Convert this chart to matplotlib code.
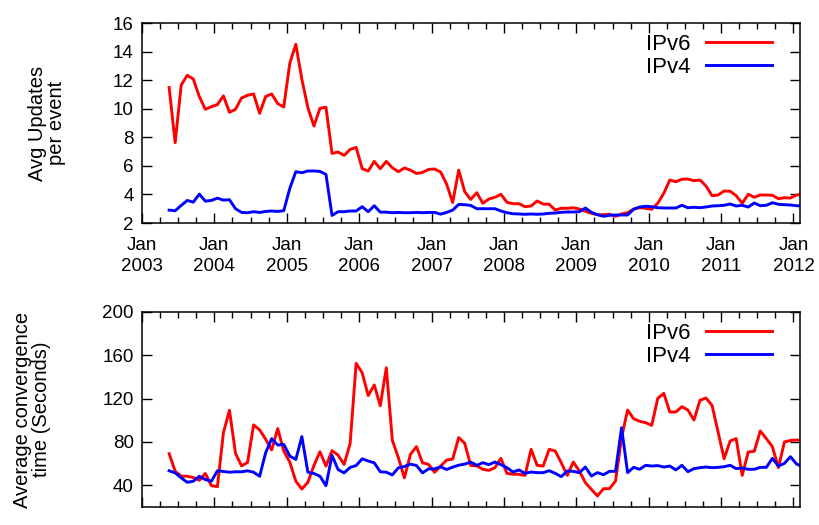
import numpy as np
import matplotlib
matplotlib.use("Agg")
import matplotlib.pyplot as plt
from matplotlib.ticker import MultipleLocator, FixedLocator

plt.rcParams['font.family'] = ['Liberation Sans', 'DejaVu Sans']

# monthly series, May 2003 .. Feb 2012 (mid-month points)
start_year, start_month = 2003, 5
n_points = 106

upd_ipv6 = [11.48, 7.62, 11.66, 12.34, 12.08, 10.85, 9.96, 10.14, 10.29, 10.9, 9.75, 9.96,
            10.75, 10.94, 11.03, 9.68, 10.85, 11.03, 10.36, 10.12, 13.18, 14.51, 12.06, 10.07,
            8.79, 10.03, 10.1, 6.87, 6.97, 6.73, 7.15, 7.29, 5.8, 5.64, 6.31, 5.8,
            6.31, 5.87, 5.59, 5.85, 5.7, 5.47, 5.54, 5.75, 5.78, 5.57, 4.72, 3.44,
            5.7, 4.19, 3.65, 4.12,
            3.38, 3.68, 3.8, 4.01, 3.45, 3.35, 3.35, 3.14, 3.19, 3.54, 3.33, 3.31,
            2.91, 3.03, 3.03, 3.07, 2.98, 2.82, 2.68, 2.58, 2.58, 2.61, 2.47, 2.63,
            2.72, 2.98, 3.07, 3.03, 2.96, 3.38, 4.08, 5.01, 4.89, 5.06, 5.08, 4.96,
            5.01, 4.59, 3.91, 3.96, 4.24, 4.22, 3.91, 3.38, 4.01, 3.8, 3.96, 3.96,
            3.94, 3.7, 3.77, 3.75, 3.96, 3.98]

upd_ipv4 = [2.9, 2.86, 3.23, 3.58, 3.46, 4.02, 3.53, 3.58, 3.74, 3.6, 3.63, 3.0,
            2.74, 2.72, 2.79, 2.74, 2.81, 2.84, 2.81, 2.86, 4.42, 5.59, 5.52, 5.64,
            5.64, 5.61, 5.4, 2.53, 2.79, 2.79, 2.84, 2.84, 3.14, 2.79, 3.21, 2.76,
            2.76, 2.72, 2.74, 2.72, 2.72, 2.74, 2.72, 2.74, 2.74, 2.62, 2.74, 2.9,
            3.3, 3.28, 3.23, 3.0,
            3.0, 3.0, 3.0, 2.84, 2.72, 2.65, 2.63, 2.61, 2.63, 2.61, 2.63, 2.68,
            2.7, 2.75, 2.77, 2.77, 2.79, 3.05, 2.75, 2.58, 2.47, 2.54, 2.56, 2.56,
            2.56, 2.96, 3.12, 3.17, 3.14, 3.07, 3.05, 3.05, 3.05, 3.24, 3.07, 3.1,
            3.07, 3.12, 3.19, 3.21, 3.24, 3.33, 3.19, 3.24, 3.12, 3.4, 3.21, 3.24,
            3.42, 3.31, 3.28, 3.26, 3.21, 3.19]

conv_ipv6 = [69.2, 53.0, 48.4, 48.4, 47.2, 44.7, 50.9, 39.7, 38.8, 88.7, 109.2, 69.5,
             58.0, 61.1, 95.8, 91.2, 82.5, 72.6, 92.4, 71.7, 61.4, 43.8, 36.6, 42.8,
             58.3, 71.0, 57.7, 72.0, 67.9, 59.3, 78.5, 152.6, 143.9, 122.8, 132.7, 113.5,
             148.5, 81.6, 65.5, 46.9, 68.6, 75.7, 60.8, 59.3, 52.1, 57.7, 63.3, 64.2,
             84.1, 78.8, 58.3, 58.0,
             54.8, 53.8, 56.3, 64.9, 51.1, 50.2, 50.2, 49.2, 73.2, 58.5, 57.8, 73.2,
             71.7, 60.9, 49.2, 61.5, 53.2, 42.5, 36.3, 30.2, 36.9, 36.9, 44.0, 84.0,
             109.5, 101.5, 99.1, 97.8, 95.4, 120.3, 124.9, 107.7, 107.7, 112.6, 109.5, 100.3,
             118.5, 120.6, 113.8, 89.2, 64.6, 80.9, 83.1, 49.2, 70.8, 71.4, 90.2, 83.1,
             75.7, 56.3, 80.0, 81.5, 81.8, 81.5]

conv_ipv4 = [53.4, 51.5, 46.9, 42.8, 43.8, 48.4, 45.3, 43.8, 53.4, 52.8, 52.1, 52.5,
             52.5, 53.4, 52.1, 48.4, 70.1, 83.1, 77.2, 77.8, 67.0, 63.9, 85.0, 52.1,
             50.9, 48.4, 39.7, 67.6, 54.6, 51.5, 56.5, 58.3, 64.5, 62.4, 60.8, 52.5,
             52.1, 49.6, 56.2, 57.4, 59.6, 58.3, 51.5, 55.2, 55.2, 57.1, 54.6, 56.8,
             58.6, 59.6, 61.4, 58.5,
             60.9, 59.1, 61.5, 59.1, 56.3, 52.3, 54.2, 51.1, 52.3, 51.7, 51.7, 53.5,
             51.1, 48.0, 53.2, 52.9, 51.7, 56.9, 48.6, 51.7, 49.8, 52.9, 52.9, 93.2,
             51.7, 56.6, 54.8, 58.5, 57.8, 58.2, 56.9, 57.8, 54.2, 58.5, 52.6, 55.4,
             56.3, 56.9, 56.3, 56.6, 57.2, 58.5, 55.4, 56.0, 54.8, 54.8, 56.6, 56.6,
             64.9, 57.8, 60.3, 66.4, 59.7, 57.2]

year_ticks = list(range(2003, 2013))
year_labels = ["Jan\n%d" % y for y in year_ticks]

# x positions as decimal years (mid-month)
x = np.array([start_year + (start_month - 1 + i + 0.5) / 12.0 for i in range(n_points)])

RED = '#ff0000'
BLUE = '#0000ff'
FS = 13.5

fig = plt.figure(figsize=(8.19, 5.25), dpi=100)
ax1 = fig.add_axes([142/819, 1 - 223/525, 658/819, 200/525])
ax2 = fig.add_axes([142/819, 1 - 507/525, 658/819, 195/525])

xmin, xmax = 2003.0, 2012.09

def style(ax):
    ax.set_xlim(xmin, xmax)
    ax.xaxis.set_major_locator(FixedLocator(year_ticks))
    ax.xaxis.set_minor_locator(MultipleLocator(0.25))
    ax.tick_params(which='both', direction='in', top=True, right=True,
                   labelsize=FS, width=1.0)
    ax.tick_params(axis='y', pad=6)
    ax.tick_params(axis='x', pad=10)
    ax.tick_params(which='major', length=7)
    ax.tick_params(which='minor', length=4)
    ax.tick_params(axis='y', which='minor', left=False, right=False)
    for s in ax.spines.values():
        s.set_linewidth(1.1)

ax1.plot(x, upd_ipv6, color=RED, lw=2.1, label='IPv6')
ax1.plot(x, upd_ipv4, color=BLUE, lw=2.1, label='IPv4')
style(ax1)
ax1.set_ylim(2, 16)
ax1.yaxis.set_major_locator(MultipleLocator(2))
ax1.set_xticklabels(year_labels, linespacing=1.35)
ax1.set_ylabel("Avg Updates\nper event", fontsize=14.5, linespacing=1.0)
ax1.yaxis.set_label_coords((66 - 142) / 658, 0.5)

ax2.plot(x, conv_ipv6, color=RED, lw=2.1, label='IPv6')
ax2.plot(x, conv_ipv4, color=BLUE, lw=2.1, label='IPv4')
style(ax2)
ax2.set_ylim(20, 200)
ax2.yaxis.set_major_locator(FixedLocator([40, 80, 120, 160, 200]))
ax2.set_xticklabels([])
ax2.set_ylabel("Average convergence\ntime (Seconds)", fontsize=14.5, linespacing=1.0)
ax2.yaxis.set_label_coords((51 - 142) / 658, 0.5)

for ax, h in ((ax1, 200.0), (ax2, 195.0)):
    ax.legend(loc='upper right', frameon=False, markerfirst=False, fontsize=16,
              handlelength=3.0, handletextpad=0.7, labelspacing=0.1,
              borderaxespad=0.0, borderpad=0.3,
              bbox_to_anchor=(1 - 21 / 658, 1 - 4 / h))

fig.savefig('out.png', dpi=100)
